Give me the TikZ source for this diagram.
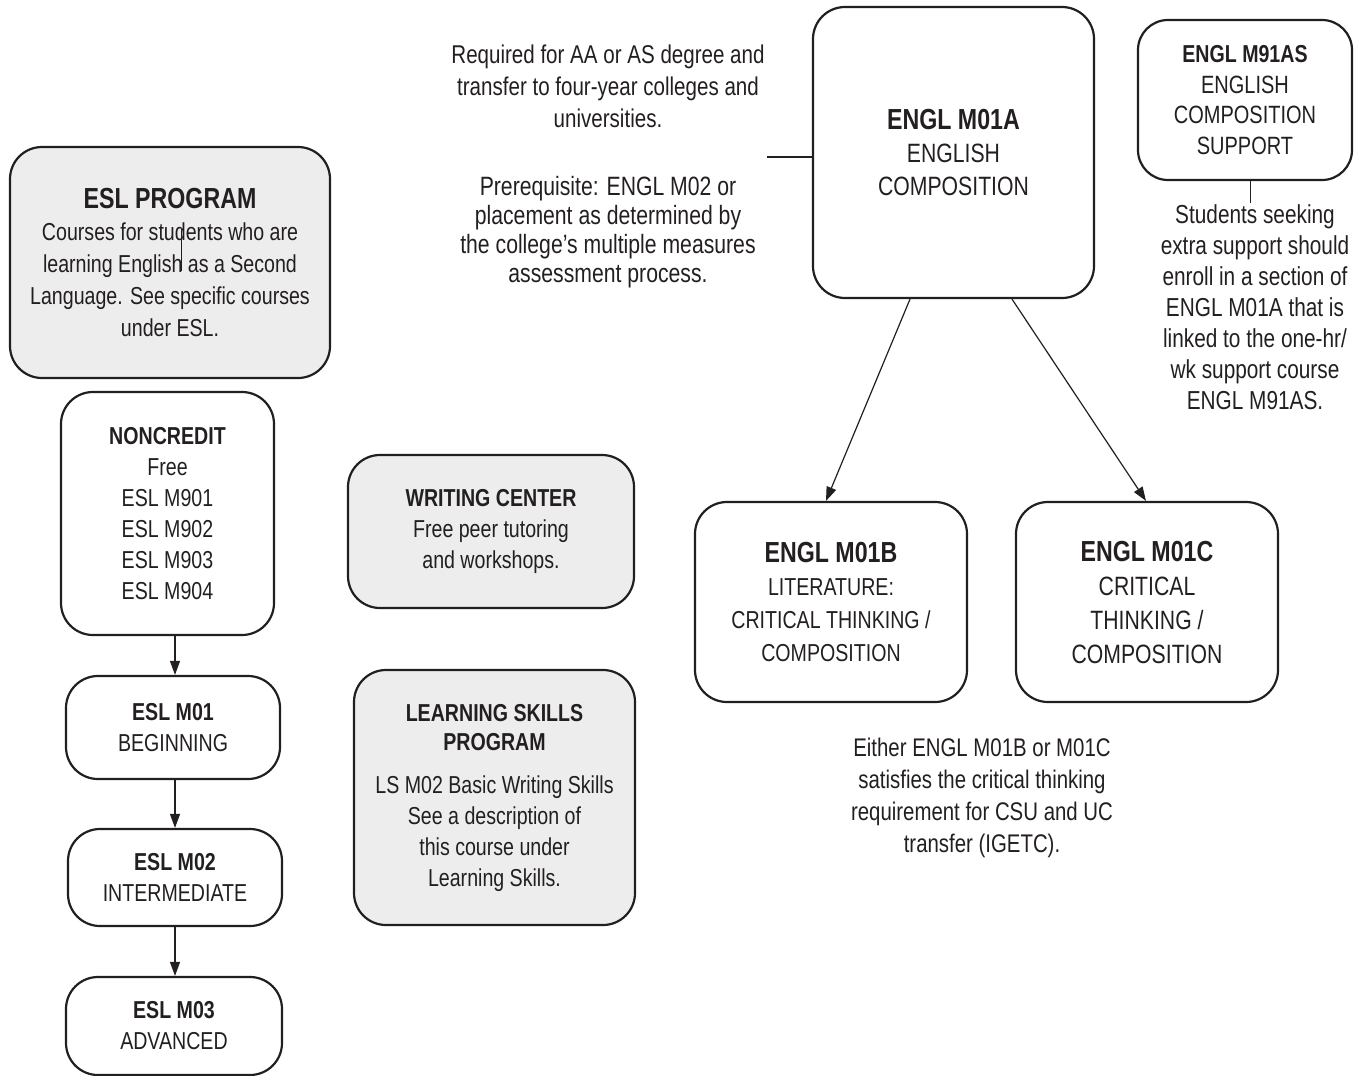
\documentclass[tikz,border=0pt]{standalone}
\usepackage{fontspec}
\setmainfont[FakeStretch=0.8]{Liberation Sans}
\usetikzlibrary{arrows.meta}
\definecolor{ink}{HTML}{231F20}
\definecolor{shade}{HTML}{EDEDED}
\newcommand\BigHead[1]{{\bfseries\fontsize{29}{33}\selectfont #1}}
\newcommand\SmallHead[1]{{\bfseries\fontsize{24.5}{31}\selectfont #1}}
\begin{document}
\begin{tikzpicture}[x=1pt,y=-1pt,
  box/.style={draw=ink, line width=2.2pt, rounded corners=32pt, align=center, inner sep=0pt, text=ink, font=\fontsize{24.5}{31}\selectfont},
  gbox/.style={box, fill=shade},
  note/.style={align=center, text=ink, inner sep=0pt, font=\fontsize{24.5}{31}\selectfont},
  arr/.style={draw=ink, line width=1.2pt, -{Triangle[length=14pt,width=10pt]}},
  thinline/.style={draw=ink, line width=1.2pt}]
\useasboundingbox (0,0) rectangle (1358,1076);

% left column
\node[gbox, minimum width=320, minimum height=231, font=\fontsize{24.5}{32}\selectfont] (esl) at (170,262.5)
  {\BigHead{ESL PROGRAM}\\Courses for students who are\\learning English as a Second\\Language. See specific courses\\under ESL.};
\draw[draw=ink, line width=0.9pt] (181.5,229) -- (181.5,271);

\node[box, minimum width=213, minimum height=243] (noncr) at (167.5,513.5)
  {\SmallHead{NONCREDIT}\\Free\\ESL M901\\ESL M902\\ESL M903\\ESL M904};
\node[box, minimum width=214, minimum height=103] (m01) at (173,727.5)
  {\SmallHead{ESL M01}\\BEGINNING};
\node[box, minimum width=214, minimum height=97] (m02) at (175,877.5)
  {\SmallHead{ESL M02}\\INTERMEDIATE};
\node[box, minimum width=216, minimum height=98] (m03) at (174,1026)
  {\SmallHead{ESL M03}\\ADVANCED};
\draw[arr] (175,0 |- noncr.south) -- (175,0 |- m01.north);
\draw[arr] (175,0 |- m01.south) -- (175,0 |- m02.north);
\draw[arr] (175,0 |- m02.south) -- (175,0 |- m03.north);

% middle column
\node[gbox, minimum width=286, minimum height=153] (wc) at (491,531.5)
  {\SmallHead{WRITING CENTER}\\Free peer tutoring\\and workshops.};
\node[gbox, minimum width=281, minimum height=255] (ls) at (494.5,797.5)
  {\SmallHead{LEARNING SKILLS}\\[-2pt]\SmallHead{PROGRAM}\\[12pt]LS M02 Basic Writing Skills\\See a description of\\this course under\\Learning Skills.};

\node[note, font=\fontsize{25.7}{32}\selectfont] (req) at (608,86)
  {Required for AA or AS degree and\\transfer to four-year colleges and\\universities.};
\node[note, font=\fontsize{26.5}{29}\selectfont] (pre) at (608,232)
  {Prerequisite: ENGL M02 or\\placement as determined by\\the college’s multiple measures\\assessment process.};

% English composition
\node[box, minimum width=281, minimum height=291, font=\fontsize{26.5}{33}\selectfont] (m01a) at (953.5,152.5)
  {\BigHead{ENGL M01A}\\ENGLISH\\COMPOSITION};
\coordinate (noteend) at (767,157);
\draw[thinline] (noteend) -- (noteend -| m01a.west);

\node[box, rounded corners=30pt, minimum width=214, minimum height=160, font=\fontsize{25}{30.5}\selectfont] (m91) at (1245,100)
  {\SmallHead{ENGL M91AS}\\ENGLISH\\COMPOSITION\\SUPPORT};
\coordinate (stub) at (1250,203);
\draw[draw=ink, line width=1pt] (stub |- m91.south) -- (stub);
\node[note, font=\fontsize{26}{31}\selectfont] (sup) at (1255,307)
  {Students seeking\\extra support should\\enroll in a section of\\ENGL M01A that is\\linked to the one-hr/\\wk support course\\ENGL M91AS.};

\node[box, minimum width=272, minimum height=200, font=\fontsize{24.5}{33}\selectfont] (m01b) at (831,602)
  {\BigHead{ENGL M01B}\\LITERATURE:\\CRITICAL THINKING /\\COMPOSITION};
\node[box, minimum width=262, minimum height=200, font=\fontsize{26.5}{34}\selectfont] (m01c) at (1147,602)
  {\BigHead{ENGL M01C}\\CRITICAL\\THINKING /\\COMPOSITION};
\draw[arr] (910,0 |- m01a.south) -- (826,0 |- m01b.north);
\draw[arr] (1012,0 |- m01a.south) -- (1146,0 |- m01c.north);

\node[note, font=\fontsize{25.5}{32}\selectfont] (either) at (982,798)
  {Either ENGL M01B or M01C\\satisfies the critical thinking\\requirement for CSU and UC\\transfer (IGETC).};
\end{tikzpicture}
\end{document}
